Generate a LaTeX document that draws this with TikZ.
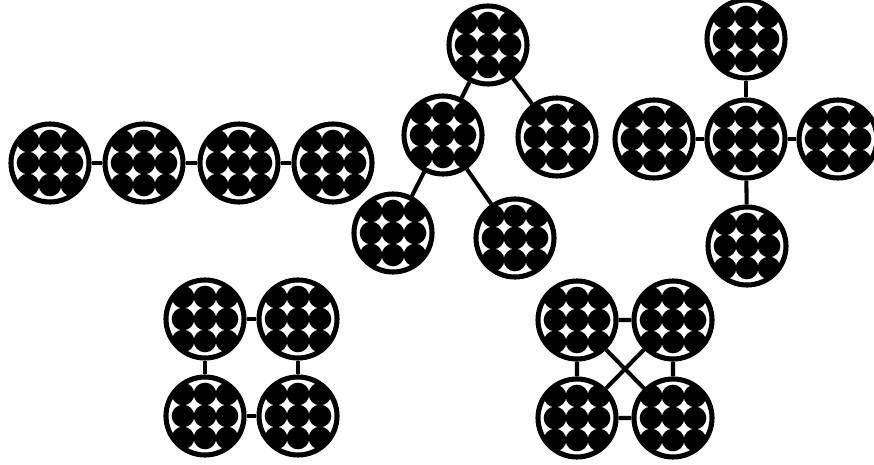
\documentclass[tikz,border=0pt]{standalone}
\usetikzlibrary{positioning}

\begin{document}
\begin{tikzpicture}[x=0.02cm,y=-0.02cm]
\tikzstyle{srv}=[circle,draw,line width=2.9pt,minimum size=1.56cm,inner sep=0pt,fill=white,
  path picture={\foreach \i in {-1,0,1} \foreach \j in {-1,0,1}
    \fill[black,shift={(path picture bounding box.center)}] (\i*0.44cm,\j*0.44cm) circle (0.227cm);}]
\tikzstyle{lnk}=[line width=2.3pt]
\useasboundingbox (0,0) rectangle (874,465);
% chain
\node[srv] (c1) at (50,163) {};
\node[srv] (c2) at (144,163) {};
\node[srv] (c3) at (239,163) {};
\node[srv] (c4) at (333,163) {};
\draw[lnk] (c1) -- (c2) (c2) -- (c3) (c3) -- (c4);
% tree
\node[srv] (t0) at (488,45) {};
\node[srv] (t1) at (443,135) {};
\node[srv] (t2) at (557,137) {};
\node[srv] (t3) at (393,233) {};
\node[srv] (t4) at (515,238) {};
\draw[lnk] (t0) -- (t1) (t0) -- (t2) (t1) -- (t3) (t1) -- (t4);
% star
\node[srv] (s0) at (746,139) {};
\node[srv] (s1) at (746,39) {};
\node[srv] (s2) at (654,139) {};
\node[srv] (s3) at (838,139) {};
\node[srv] (s4) at (747,246) {};
\foreach \n in {s1,s2,s3,s4} \draw[lnk] (s0) -- (\n);
% ring
\node[srv] (r1) at (205,319) {};
\node[srv] (r2) at (298,319) {};
\node[srv] (r3) at (205,416) {};
\node[srv] (r4) at (298,416) {};
\draw[lnk] (r1) -- (r2) (r2) -- (r4) (r4) -- (r3) (r3) -- (r1);
% full mesh
\node[srv] (m1) at (577,320) {};
\node[srv] (m2) at (673,320) {};
\node[srv] (m3) at (577,418) {};
\node[srv] (m4) at (673,418) {};
\draw[lnk] (m1) -- (m2) (m2) -- (m4) (m4) -- (m3) (m3) -- (m1) (m1) -- (m4) (m2) -- (m3);
\end{tikzpicture}
\end{document}
